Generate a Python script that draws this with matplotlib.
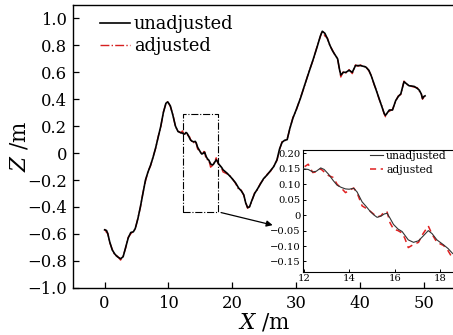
import numpy as np
import matplotlib
matplotlib.use("Agg")
import matplotlib.pyplot as plt
from matplotlib.ticker import FixedLocator, FixedFormatter

plt.rcParams['font.family'] = ['DejaVu Serif']
plt.rcParams['mathtext.fontset'] = 'dejavuserif'

# ---------------- data ----------------
x_m = [0.0, 0.3, 0.5, 0.8, 1.2, 1.6, 2.0, 2.5, 2.9, 3.3, 3.7, 4.1, 4.5, 4.8, 5.2, 5.6, 6.0, 6.4, 6.8, 7.2,
       7.6, 8.0, 8.4, 8.8, 9.2, 9.6, 9.9, 10.3, 10.7, 11.1, 11.5, 11.9,
       12.0, 12.2, 12.4, 12.55, 12.75, 12.9, 13.1, 13.3, 13.47, 13.65, 13.84, 14.0, 14.2, 14.35, 14.57,
       14.75, 14.94, 15.1, 15.23, 15.4, 15.55, 15.67, 15.8, 15.95, 16.15, 16.33, 16.45, 16.6, 16.83,
       17.05, 17.25, 17.48, 17.65, 17.86, 18.15, 18.35, 18.55,
       19.2, 19.8, 20.5, 21.0, 21.4, 21.8, 22.1, 22.4, 22.7, 23.0, 23.5, 23.9, 24.4, 24.9, 25.5, 26.0,
       26.5, 27.0, 27.4, 27.8, 28.2, 28.6, 29.0, 29.5, 30.0, 30.7, 31.3, 32.0, 32.7, 33.3, 33.8, 34.1,
       34.5, 34.9, 35.3, 35.7, 36.1, 36.5, 36.8, 37.0, 37.4, 37.8, 38.3, 38.8, 39.3, 39.7, 40.1, 40.5,
       40.9, 41.4, 41.8, 42.2, 42.6, 43.0, 43.4, 43.8, 44.0, 44.3, 44.6, 45.1, 45.6, 46.0, 46.4, 46.9,
       47.3, 47.7, 48.1, 48.5, 49.0, 49.3, 49.6, 49.8, 50.0, 50.2]

z_unadjusted = [-0.57, -0.575, -0.60, -0.66, -0.72, -0.75, -0.77, -0.785, -0.77, -0.70, -0.63, -0.59, -0.585,
                -0.56, -0.49, -0.40, -0.30, -0.20, -0.14, -0.09, -0.03, 0.04, 0.12, 0.20, 0.30, 0.37, 0.38,
                0.35, 0.28, 0.20, 0.16, 0.152,
                0.150, 0.148, 0.140, 0.142, 0.153, 0.148, 0.132, 0.112, 0.097, 0.090, 0.085, 0.084, 0.087,
                0.075, 0.043, 0.028, 0.011, 0.000, -0.007, -0.003, 0.004, 0.006, -0.010, -0.030, -0.045,
                -0.053, -0.065, -0.080, -0.088, -0.083, -0.068, -0.050, -0.060, -0.080, -0.096, -0.108, -0.124,
                -0.15, -0.18, -0.22, -0.26, -0.28, -0.31, -0.37, -0.405, -0.40, -0.36, -0.30, -0.27, -0.23,
                -0.19, -0.16, -0.13, -0.10, -0.05, 0.03, 0.08, 0.095, 0.10, 0.18, 0.26, 0.32, 0.41, 0.50,
                0.60, 0.70, 0.79, 0.87, 0.905, 0.89, 0.85, 0.80, 0.76, 0.73, 0.70, 0.62, 0.58, 0.60, 0.60,
                0.615, 0.60, 0.65, 0.65, 0.65, 0.645, 0.64, 0.615, 0.57, 0.516, 0.46, 0.405, 0.35, 0.294,
                0.28, 0.30, 0.32, 0.32, 0.39, 0.42, 0.44, 0.53, 0.515, 0.50, 0.498, 0.495, 0.48, 0.467,
                0.44, 0.405, 0.42, 0.425]

z_adjusted = [-0.565, -0.59, -0.595, -0.665, -0.715, -0.76, -0.765, -0.795, -0.765, -0.705, -0.625, -0.60,
              -0.58, -0.565, -0.485, -0.405, -0.295, -0.21, -0.135, -0.095, -0.025, 0.035, 0.125, 0.195,
              0.305, 0.365, 0.385, 0.345, 0.285, 0.195, 0.165, 0.150,
              0.155, 0.165, 0.138, 0.140, 0.150, 0.140, 0.128, 0.122, 0.100, 0.088, 0.073, 0.080, 0.088,
              0.072, 0.030, 0.022, 0.012, 0.002, -0.006, -0.002, 0.012, 0.010, -0.025, -0.045, -0.050,
              -0.058, -0.075, -0.105, -0.095, -0.088, -0.060, -0.035, -0.062, -0.088, -0.098, -0.115, -0.140,
              -0.155, -0.175, -0.225, -0.27, -0.275, -0.315, -0.365, -0.41, -0.395, -0.365, -0.295, -0.275,
              -0.225, -0.195, -0.155, -0.135, -0.095, -0.055, 0.025, 0.085, 0.09, 0.105, 0.175, 0.265,
              0.315, 0.415, 0.495, 0.605, 0.695, 0.795, 0.865, 0.91, 0.87, 0.855, 0.795, 0.765, 0.725,
              0.705, 0.615, 0.565, 0.605, 0.595, 0.62, 0.59, 0.655, 0.645, 0.655, 0.64, 0.645, 0.61, 0.575,
              0.51, 0.465, 0.40, 0.355, 0.29, 0.27, 0.305, 0.31, 0.325, 0.385, 0.425, 0.435, 0.535, 0.51,
              0.505, 0.495, 0.49, 0.485, 0.46, 0.445, 0.40, 0.415, 0.43]

main_xticks = [0, 10, 20, 30, 40, 50]
main_xticklabels = ["0", "10", "20", "30", "40", "50"]
main_yticks = [-1.0, -0.8, -0.6, -0.4, -0.2, 0.0, 0.2, 0.4, 0.6, 0.8, 1.0]
main_yticklabels = ["\u22121.0", "\u22120.8", "\u22120.6", "\u22120.4", "\u22120.2", "0",
                    "0.2", "0.4", "0.6", "0.8", "1.0"]
inset_xticks = [12, 14, 16, 18]
inset_xticklabels = ["12", "14", "16", "18"]
inset_yticks = [-0.15, -0.10, -0.05, 0.0, 0.05, 0.10, 0.15, 0.20]
inset_yticklabels = ["\u22120.15", "\u22120.10", "\u22120.05", "0", "0.05", "0.10", "0.15", "0.20"]

zoom_box = (12.3, -0.437, 17.82, 0.289)   # x0, y0, x1, y1
arrow_end = (26.75, -0.54)

# ---------------- figure ----------------
W, H = 453, 335
fig = plt.figure(figsize=(W / 100, H / 100), dpi=100)

ax = fig.add_axes([72.7 / W, (H - 287.7) / H, 383 / W, (287.7 - 5) / H])
ax.plot(x_m, z_adjusted, color='#d62020', lw=1.0, ls='-.', label='adjusted', zorder=2)
ax.plot(x_m, z_unadjusted, color='black', lw=1.2, label='unadjusted', zorder=3)
ax.set_xlim(-5, 55)
ax.set_ylim(-1.0, 1.1)
ax.xaxis.set_major_locator(FixedLocator(main_xticks))
ax.xaxis.set_major_formatter(FixedFormatter(main_xticklabels))
ax.yaxis.set_major_locator(FixedLocator(main_yticks))
ax.yaxis.set_major_formatter(FixedFormatter(main_yticklabels))
ax.tick_params(direction='in', length=4, width=0.9, labelsize=11.8, pad=5)
ax.tick_params(axis='y', pad=4)
for s in ax.spines.values():
    s.set_linewidth(1.0)
ax.set_xlabel("$X$ /m", fontsize=15.5, labelpad=0)
ax.set_ylabel("$Z$ /m", fontsize=15.5, labelpad=-2)

handles, labels = ax.get_legend_handles_labels()
order = [1, 0]
ax.legend([handles[i] for i in order], [labels[i] for i in order],
          loc='upper left', bbox_to_anchor=(100 / W, 1 - 15 / H), bbox_transform=fig.transFigure,
          frameon=False, fontsize=12.8, handlelength=1.7, handletextpad=0.2,
          labelspacing=0.25, borderpad=0, borderaxespad=0)

x0, y0, x1, y1 = zoom_box
ax.plot([x0, x1, x1, x0, x0], [y0, y0, y1, y1, y0], color='black', lw=0.8, ls='-.', zorder=1)
ax.annotate("", xy=arrow_end, xytext=(x1, y0),
            arrowprops=dict(arrowstyle='-|>', color='black', lw=0.9, mutation_scale=9))

# ---------------- inset ----------------
ins = fig.add_axes([303 / W, (H - 272.3) / H, 153 / W, (272.3 - 150) / H])
ins.plot(x_m, z_unadjusted, color='#333333', lw=0.8, label='unadjusted', zorder=3)
ins.plot(x_m, z_adjusted, color='#e02020', lw=1.1, ls=(0, (4, 3)), label='adjusted', zorder=2)
ins.set_xlim(11.97, 18.7)
ins.set_ylim(-0.185, 0.211)
ins.xaxis.set_major_locator(FixedLocator(inset_xticks))
ins.xaxis.set_major_formatter(FixedFormatter(inset_xticklabels))
ins.yaxis.set_major_locator(FixedLocator(inset_yticks))
ins.yaxis.set_major_formatter(FixedFormatter(inset_yticklabels))
ins.tick_params(direction='in', length=2.5, width=0.7, labelsize=7.2, pad=1.5)
for s in ins.spines.values():
    s.set_linewidth(0.8)
ins.legend(loc='upper right', bbox_to_anchor=(447 / W, 1 - 151 / H), bbox_transform=fig.transFigure,
           frameon=False, fontsize=7.8, handlelength=1.2, handletextpad=0.3,
           labelspacing=0.35, borderpad=0, borderaxespad=0)

fig.savefig("out.png", dpi=100)
